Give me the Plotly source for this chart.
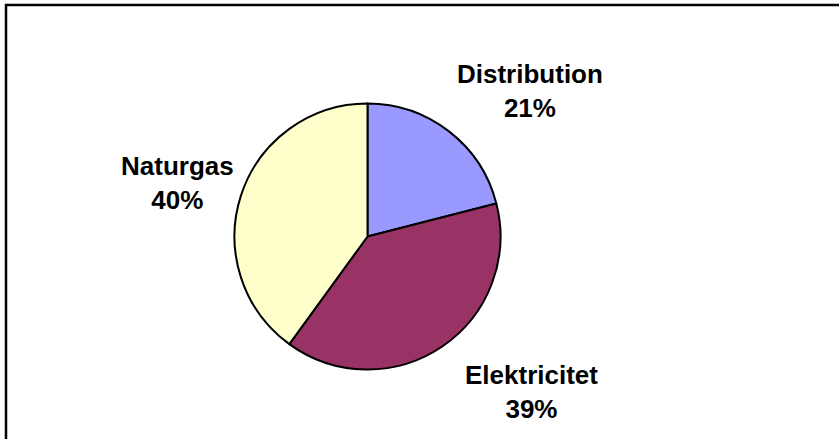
import plotly.graph_objects as go

labels = ["Distribution", "Elektricitet", "Naturgas"]
values = [21, 39, 40]
colors = ["#9999FF", "#993366", "#FFFFCC"]

W, H = 839, 439
cx, cy, r = 367.5, 236.5, 133

# label centre positions in pixels (layout)
label_pos = {"Distribution": (530, 91), "Elektricitet": (531, 392), "Naturgas": (177, 183)}

fig = go.Figure(go.Pie(
    labels=labels, values=values, sort=False, direction="clockwise", rotation=0,
    marker=dict(colors=colors, line=dict(color="black", width=2)),
    textinfo="none", hoverinfo="label+percent", showlegend=False,
    domain=dict(x=[(cx - r) / W, (cx + r) / W], y=[(H - cy - r) / H, (H - cy + r) / H]),
))

total = sum(values)
annotations = []
for lab, v in zip(labels, values):
    px, py = label_pos[lab]
    annotations.append(dict(
        x=px / W, y=1 - py / H, xref="paper", yref="paper", xanchor="center", yanchor="middle",
        text=f"<b>{lab}<br>{round(100 * v / total)}%</b>", showarrow=False, align="center",
        font=dict(family="Liberation Sans, Arial", size=26, color="black"),
    ))

fig.update_layout(
    width=W, height=H, margin=dict(l=0, r=0, t=0, b=0),
    paper_bgcolor="white", plot_bgcolor="white",
    annotations=annotations,
    shapes=[dict(type="rect", xref="paper", yref="paper",
                 x0=6 / W, x1=1.01, y0=-0.01, y1=1 - 5 / H,
                 line=dict(color="black", width=2.5), fillcolor="rgba(0,0,0,0)")],
)

fig.write_html("out.html")
